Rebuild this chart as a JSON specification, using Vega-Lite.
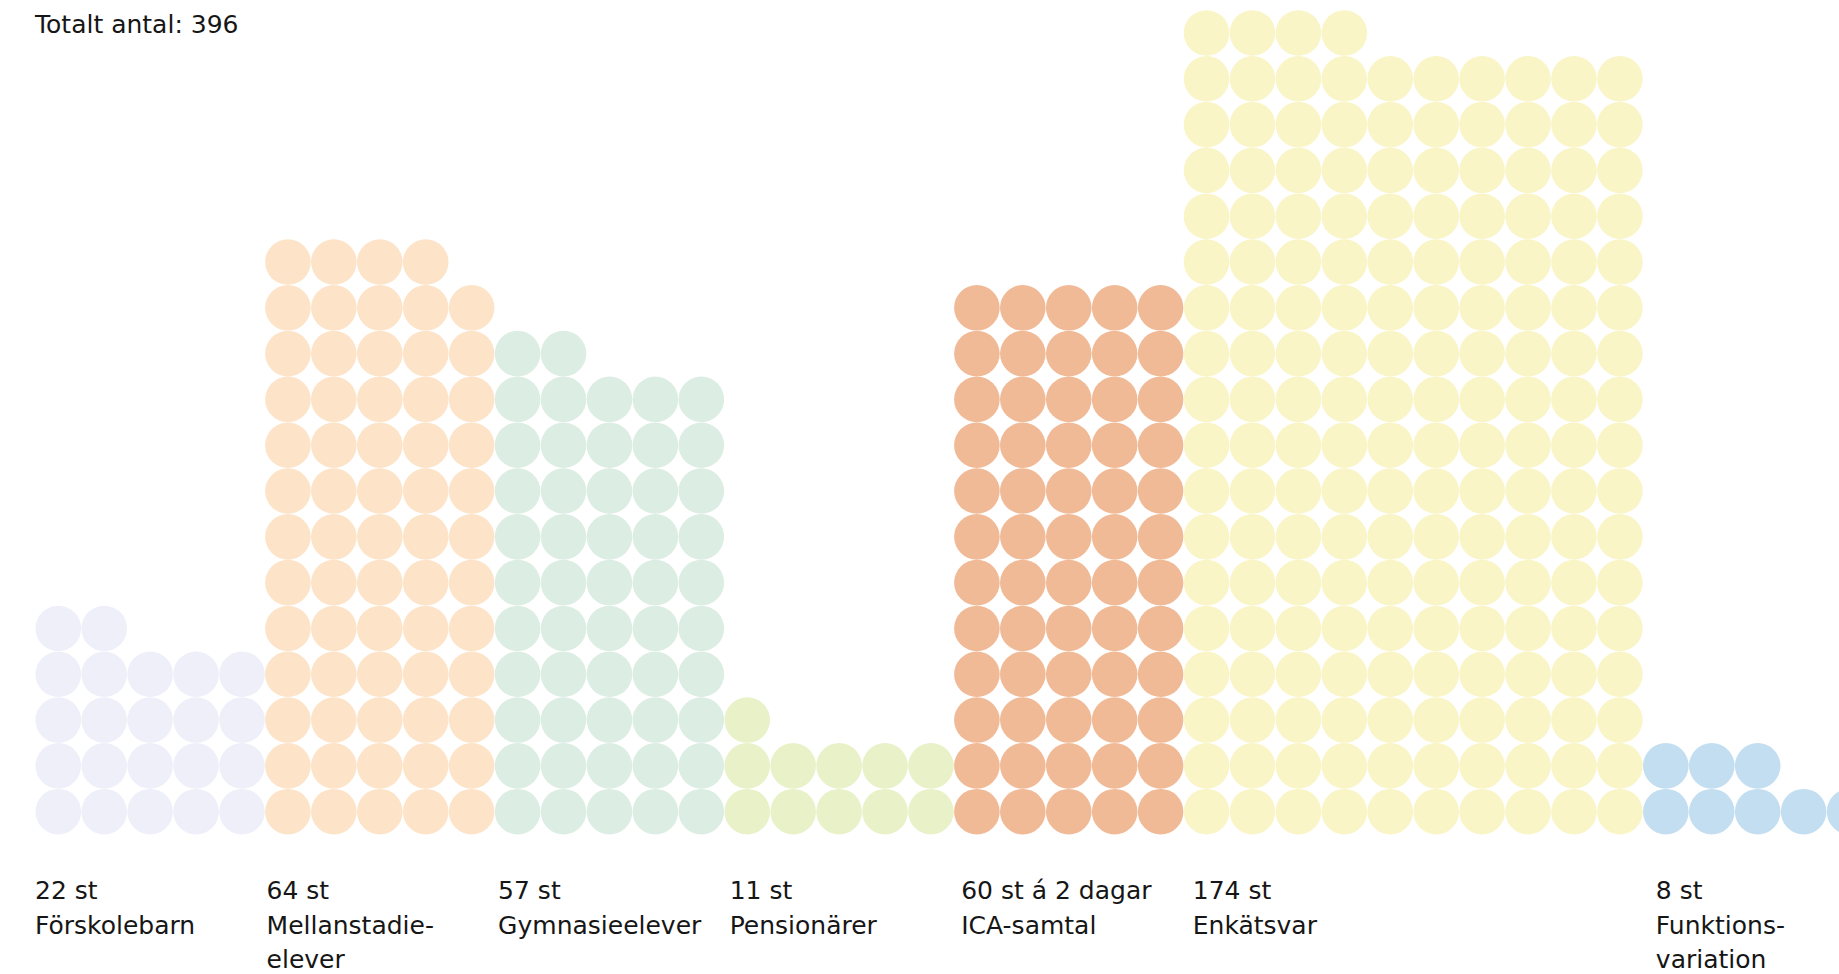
{
"$schema": "https://vega.github.io/schema/vega-lite/v6.json",
"width": 1839, "height": 974,
"autosize": {"type": "fit", "contains": "padding"},
"padding": 0,
"background": "white",
"config": {"view": {"stroke": null}, "font": "DejaVu Sans"},
"datasets": {
"dots": [
{"g":"F","c":0,"r":0},{"g":"F","c":1,"r":0},{"g":"F","c":2,"r":0},{"g":"F","c":3,"r":0},{"g":"F","c":4,"r":0},
{"g":"F","c":0,"r":1},{"g":"F","c":1,"r":1},{"g":"F","c":2,"r":1},{"g":"F","c":3,"r":1},{"g":"F","c":4,"r":1},
{"g":"F","c":0,"r":2},{"g":"F","c":1,"r":2},{"g":"F","c":2,"r":2},{"g":"F","c":3,"r":2},{"g":"F","c":4,"r":2},
{"g":"F","c":0,"r":3},{"g":"F","c":1,"r":3},{"g":"F","c":2,"r":3},{"g":"F","c":3,"r":3},{"g":"F","c":4,"r":3},
{"g":"F","c":0,"r":4},{"g":"F","c":1,"r":4},
{"g":"M","c":5,"r":0},{"g":"M","c":6,"r":0},{"g":"M","c":7,"r":0},{"g":"M","c":8,"r":0},{"g":"M","c":9,"r":0},
{"g":"M","c":5,"r":1},{"g":"M","c":6,"r":1},{"g":"M","c":7,"r":1},{"g":"M","c":8,"r":1},{"g":"M","c":9,"r":1},
{"g":"M","c":5,"r":2},{"g":"M","c":6,"r":2},{"g":"M","c":7,"r":2},{"g":"M","c":8,"r":2},{"g":"M","c":9,"r":2},
{"g":"M","c":5,"r":3},{"g":"M","c":6,"r":3},{"g":"M","c":7,"r":3},{"g":"M","c":8,"r":3},{"g":"M","c":9,"r":3},
{"g":"M","c":5,"r":4},{"g":"M","c":6,"r":4},{"g":"M","c":7,"r":4},{"g":"M","c":8,"r":4},{"g":"M","c":9,"r":4},
{"g":"M","c":5,"r":5},{"g":"M","c":6,"r":5},{"g":"M","c":7,"r":5},{"g":"M","c":8,"r":5},{"g":"M","c":9,"r":5},
{"g":"M","c":5,"r":6},{"g":"M","c":6,"r":6},{"g":"M","c":7,"r":6},{"g":"M","c":8,"r":6},{"g":"M","c":9,"r":6},
{"g":"M","c":5,"r":7},{"g":"M","c":6,"r":7},{"g":"M","c":7,"r":7},{"g":"M","c":8,"r":7},{"g":"M","c":9,"r":7},
{"g":"M","c":5,"r":8},{"g":"M","c":6,"r":8},{"g":"M","c":7,"r":8},{"g":"M","c":8,"r":8},{"g":"M","c":9,"r":8},
{"g":"M","c":5,"r":9},{"g":"M","c":6,"r":9},{"g":"M","c":7,"r":9},{"g":"M","c":8,"r":9},{"g":"M","c":9,"r":9},
{"g":"M","c":5,"r":10},{"g":"M","c":6,"r":10},{"g":"M","c":7,"r":10},{"g":"M","c":8,"r":10},{"g":"M","c":9,"r":10},
{"g":"M","c":5,"r":11},{"g":"M","c":6,"r":11},{"g":"M","c":7,"r":11},{"g":"M","c":8,"r":11},{"g":"M","c":9,"r":11},
{"g":"M","c":5,"r":12},{"g":"M","c":6,"r":12},{"g":"M","c":7,"r":12},{"g":"M","c":8,"r":12},
{"g":"G","c":10,"r":0},{"g":"G","c":11,"r":0},{"g":"G","c":12,"r":0},{"g":"G","c":13,"r":0},{"g":"G","c":14,"r":0},
{"g":"G","c":10,"r":1},{"g":"G","c":11,"r":1},{"g":"G","c":12,"r":1},{"g":"G","c":13,"r":1},{"g":"G","c":14,"r":1},
{"g":"G","c":10,"r":2},{"g":"G","c":11,"r":2},{"g":"G","c":12,"r":2},{"g":"G","c":13,"r":2},{"g":"G","c":14,"r":2},
{"g":"G","c":10,"r":3},{"g":"G","c":11,"r":3},{"g":"G","c":12,"r":3},{"g":"G","c":13,"r":3},{"g":"G","c":14,"r":3},
{"g":"G","c":10,"r":4},{"g":"G","c":11,"r":4},{"g":"G","c":12,"r":4},{"g":"G","c":13,"r":4},{"g":"G","c":14,"r":4},
{"g":"G","c":10,"r":5},{"g":"G","c":11,"r":5},{"g":"G","c":12,"r":5},{"g":"G","c":13,"r":5},{"g":"G","c":14,"r":5},
{"g":"G","c":10,"r":6},{"g":"G","c":11,"r":6},{"g":"G","c":12,"r":6},{"g":"G","c":13,"r":6},{"g":"G","c":14,"r":6},
{"g":"G","c":10,"r":7},{"g":"G","c":11,"r":7},{"g":"G","c":12,"r":7},{"g":"G","c":13,"r":7},{"g":"G","c":14,"r":7},
{"g":"G","c":10,"r":8},{"g":"G","c":11,"r":8},{"g":"G","c":12,"r":8},{"g":"G","c":13,"r":8},{"g":"G","c":14,"r":8},
{"g":"G","c":10,"r":9},{"g":"G","c":11,"r":9},{"g":"G","c":12,"r":9},{"g":"G","c":13,"r":9},{"g":"G","c":14,"r":9},
{"g":"G","c":10,"r":10},{"g":"G","c":11,"r":10},
{"g":"P","c":15,"r":0},{"g":"P","c":16,"r":0},{"g":"P","c":17,"r":0},{"g":"P","c":18,"r":0},{"g":"P","c":19,"r":0},
{"g":"P","c":15,"r":1},{"g":"P","c":16,"r":1},{"g":"P","c":17,"r":1},{"g":"P","c":18,"r":1},{"g":"P","c":19,"r":1},
{"g":"P","c":15,"r":2},
{"g":"I","c":20,"r":0},{"g":"I","c":21,"r":0},{"g":"I","c":22,"r":0},{"g":"I","c":23,"r":0},{"g":"I","c":24,"r":0},
{"g":"I","c":20,"r":1},{"g":"I","c":21,"r":1},{"g":"I","c":22,"r":1},{"g":"I","c":23,"r":1},{"g":"I","c":24,"r":1},
{"g":"I","c":20,"r":2},{"g":"I","c":21,"r":2},{"g":"I","c":22,"r":2},{"g":"I","c":23,"r":2},{"g":"I","c":24,"r":2},
{"g":"I","c":20,"r":3},{"g":"I","c":21,"r":3},{"g":"I","c":22,"r":3},{"g":"I","c":23,"r":3},{"g":"I","c":24,"r":3},
{"g":"I","c":20,"r":4},{"g":"I","c":21,"r":4},{"g":"I","c":22,"r":4},{"g":"I","c":23,"r":4},{"g":"I","c":24,"r":4},
{"g":"I","c":20,"r":5},{"g":"I","c":21,"r":5},{"g":"I","c":22,"r":5},{"g":"I","c":23,"r":5},{"g":"I","c":24,"r":5},
{"g":"I","c":20,"r":6},{"g":"I","c":21,"r":6},{"g":"I","c":22,"r":6},{"g":"I","c":23,"r":6},{"g":"I","c":24,"r":6},
{"g":"I","c":20,"r":7},{"g":"I","c":21,"r":7},{"g":"I","c":22,"r":7},{"g":"I","c":23,"r":7},{"g":"I","c":24,"r":7},
{"g":"I","c":20,"r":8},{"g":"I","c":21,"r":8},{"g":"I","c":22,"r":8},{"g":"I","c":23,"r":8},{"g":"I","c":24,"r":8},
{"g":"I","c":20,"r":9},{"g":"I","c":21,"r":9},{"g":"I","c":22,"r":9},{"g":"I","c":23,"r":9},{"g":"I","c":24,"r":9},
{"g":"I","c":20,"r":10},{"g":"I","c":21,"r":10},{"g":"I","c":22,"r":10},{"g":"I","c":23,"r":10},{"g":"I","c":24,"r":10},
{"g":"I","c":20,"r":11},{"g":"I","c":21,"r":11},{"g":"I","c":22,"r":11},{"g":"I","c":23,"r":11},{"g":"I","c":24,"r":11},
{"g":"E","c":25,"r":0},{"g":"E","c":26,"r":0},{"g":"E","c":27,"r":0},{"g":"E","c":28,"r":0},{"g":"E","c":29,"r":0},{"g":"E","c":30,"r":0},{"g":"E","c":31,"r":0},{"g":"E","c":32,"r":0},{"g":"E","c":33,"r":0},{"g":"E","c":34,"r":0},
{"g":"E","c":25,"r":1},{"g":"E","c":26,"r":1},{"g":"E","c":27,"r":1},{"g":"E","c":28,"r":1},{"g":"E","c":29,"r":1},{"g":"E","c":30,"r":1},{"g":"E","c":31,"r":1},{"g":"E","c":32,"r":1},{"g":"E","c":33,"r":1},{"g":"E","c":34,"r":1},
{"g":"E","c":25,"r":2},{"g":"E","c":26,"r":2},{"g":"E","c":27,"r":2},{"g":"E","c":28,"r":2},{"g":"E","c":29,"r":2},{"g":"E","c":30,"r":2},{"g":"E","c":31,"r":2},{"g":"E","c":32,"r":2},{"g":"E","c":33,"r":2},{"g":"E","c":34,"r":2},
{"g":"E","c":25,"r":3},{"g":"E","c":26,"r":3},{"g":"E","c":27,"r":3},{"g":"E","c":28,"r":3},{"g":"E","c":29,"r":3},{"g":"E","c":30,"r":3},{"g":"E","c":31,"r":3},{"g":"E","c":32,"r":3},{"g":"E","c":33,"r":3},{"g":"E","c":34,"r":3},
{"g":"E","c":25,"r":4},{"g":"E","c":26,"r":4},{"g":"E","c":27,"r":4},{"g":"E","c":28,"r":4},{"g":"E","c":29,"r":4},{"g":"E","c":30,"r":4},{"g":"E","c":31,"r":4},{"g":"E","c":32,"r":4},{"g":"E","c":33,"r":4},{"g":"E","c":34,"r":4},
{"g":"E","c":25,"r":5},{"g":"E","c":26,"r":5},{"g":"E","c":27,"r":5},{"g":"E","c":28,"r":5},{"g":"E","c":29,"r":5},{"g":"E","c":30,"r":5},{"g":"E","c":31,"r":5},{"g":"E","c":32,"r":5},{"g":"E","c":33,"r":5},{"g":"E","c":34,"r":5},
{"g":"E","c":25,"r":6},{"g":"E","c":26,"r":6},{"g":"E","c":27,"r":6},{"g":"E","c":28,"r":6},{"g":"E","c":29,"r":6},{"g":"E","c":30,"r":6},{"g":"E","c":31,"r":6},{"g":"E","c":32,"r":6},{"g":"E","c":33,"r":6},{"g":"E","c":34,"r":6},
{"g":"E","c":25,"r":7},{"g":"E","c":26,"r":7},{"g":"E","c":27,"r":7},{"g":"E","c":28,"r":7},{"g":"E","c":29,"r":7},{"g":"E","c":30,"r":7},{"g":"E","c":31,"r":7},{"g":"E","c":32,"r":7},{"g":"E","c":33,"r":7},{"g":"E","c":34,"r":7},
{"g":"E","c":25,"r":8},{"g":"E","c":26,"r":8},{"g":"E","c":27,"r":8},{"g":"E","c":28,"r":8},{"g":"E","c":29,"r":8},{"g":"E","c":30,"r":8},{"g":"E","c":31,"r":8},{"g":"E","c":32,"r":8},{"g":"E","c":33,"r":8},{"g":"E","c":34,"r":8},
{"g":"E","c":25,"r":9},{"g":"E","c":26,"r":9},{"g":"E","c":27,"r":9},{"g":"E","c":28,"r":9},{"g":"E","c":29,"r":9},{"g":"E","c":30,"r":9},{"g":"E","c":31,"r":9},{"g":"E","c":32,"r":9},{"g":"E","c":33,"r":9},{"g":"E","c":34,"r":9},
{"g":"E","c":25,"r":10},{"g":"E","c":26,"r":10},{"g":"E","c":27,"r":10},{"g":"E","c":28,"r":10},{"g":"E","c":29,"r":10},{"g":"E","c":30,"r":10},{"g":"E","c":31,"r":10},{"g":"E","c":32,"r":10},{"g":"E","c":33,"r":10},{"g":"E","c":34,"r":10},
{"g":"E","c":25,"r":11},{"g":"E","c":26,"r":11},{"g":"E","c":27,"r":11},{"g":"E","c":28,"r":11},{"g":"E","c":29,"r":11},{"g":"E","c":30,"r":11},{"g":"E","c":31,"r":11},{"g":"E","c":32,"r":11},{"g":"E","c":33,"r":11},{"g":"E","c":34,"r":11},
{"g":"E","c":25,"r":12},{"g":"E","c":26,"r":12},{"g":"E","c":27,"r":12},{"g":"E","c":28,"r":12},{"g":"E","c":29,"r":12},{"g":"E","c":30,"r":12},{"g":"E","c":31,"r":12},{"g":"E","c":32,"r":12},{"g":"E","c":33,"r":12},{"g":"E","c":34,"r":12},
{"g":"E","c":25,"r":13},{"g":"E","c":26,"r":13},{"g":"E","c":27,"r":13},{"g":"E","c":28,"r":13},{"g":"E","c":29,"r":13},{"g":"E","c":30,"r":13},{"g":"E","c":31,"r":13},{"g":"E","c":32,"r":13},{"g":"E","c":33,"r":13},{"g":"E","c":34,"r":13},
{"g":"E","c":25,"r":14},{"g":"E","c":26,"r":14},{"g":"E","c":27,"r":14},{"g":"E","c":28,"r":14},{"g":"E","c":29,"r":14},{"g":"E","c":30,"r":14},{"g":"E","c":31,"r":14},{"g":"E","c":32,"r":14},{"g":"E","c":33,"r":14},{"g":"E","c":34,"r":14},
{"g":"E","c":25,"r":15},{"g":"E","c":26,"r":15},{"g":"E","c":27,"r":15},{"g":"E","c":28,"r":15},{"g":"E","c":29,"r":15},{"g":"E","c":30,"r":15},{"g":"E","c":31,"r":15},{"g":"E","c":32,"r":15},{"g":"E","c":33,"r":15},{"g":"E","c":34,"r":15},
{"g":"E","c":25,"r":16},{"g":"E","c":26,"r":16},{"g":"E","c":27,"r":16},{"g":"E","c":28,"r":16},{"g":"E","c":29,"r":16},{"g":"E","c":30,"r":16},{"g":"E","c":31,"r":16},{"g":"E","c":32,"r":16},{"g":"E","c":33,"r":16},{"g":"E","c":34,"r":16},
{"g":"E","c":25,"r":17},{"g":"E","c":26,"r":17},{"g":"E","c":27,"r":17},{"g":"E","c":28,"r":17},
{"g":"U","c":35,"r":0},{"g":"U","c":36,"r":0},{"g":"U","c":37,"r":0},{"g":"U","c":38,"r":0},{"g":"U","c":39,"r":0},
{"g":"U","c":35,"r":1},{"g":"U","c":36,"r":1},{"g":"U","c":37,"r":1}
],
"labels": [
{"start":0,"t":"22 st\nFörskolebarn"},
{"start":5,"t":"64 st\nMellanstadie-\nelever"},
{"start":10,"t":"57 st\nGymnasieelever"},
{"start":15,"t":"11 st\nPensionärer"},
{"start":20,"t":"60 st á 2 dagar\nICA-samtal"},
{"start":25,"t":"174 st\nEnkätsvar"},
{"start":35,"t":"8 st\nFunktions-\nvariation"}
],
"title": [{"t":"Totalt antal: 396"}]
},
"layer": [
{
"data": {"name": "dots"},
"mark": {"type": "circle", "size": 2080, "opacity": 1, "clip": true},
"encoding": {
"x": {"field": "c", "type": "quantitative", "scale": {"domain": [-1.269, 38.77], "nice": false, "zero": false}, "axis": null},
"y": {"field": "r", "type": "quantitative", "scale": {"domain": [-3.5, 17.72], "nice": false, "zero": false}, "axis": null},
"color": {"field": "g", "type": "nominal", "scale": {"domain": ["F","M","G","P","I","E","U"], "range": ["#EFEFFA","#FDE3C8","#DCEDE3","#E9F1C8","#F1BA97","#F9F5C6","#C3DEF1"]}, "legend": null}
}
},
{
"data": {"name": "labels"},
"mark": {"type": "text", "align": "left", "baseline": "alphabetic", "fontSize": 25, "lineHeight": 34.5, "lineBreak": "\n", "color": "#161616"},
"encoding": {
"x": {"field": "start", "type": "quantitative", "scale": {"domain": [-0.756, 38.955], "nice": false, "zero": false}, "axis": null},
"y": {"datum": -1.917, "type": "quantitative"},
"text": {"field": "t", "type": "nominal"}
}
},
{
"data": {"name": "title"},
"mark": {"type": "text", "align": "left", "baseline": "alphabetic", "fontSize": 25, "color": "#161616"},
"encoding": {
"x": {"datum": 0, "type": "quantitative", "scale": {"domain": [-0.756, 38.955], "nice": false, "zero": false}, "axis": null},
"y": {"datum": 16.99, "type": "quantitative"},
"text": {"field": "t", "type": "nominal"}
}
}
],
"resolve": {"scale": {"x": "independent"}}
}
